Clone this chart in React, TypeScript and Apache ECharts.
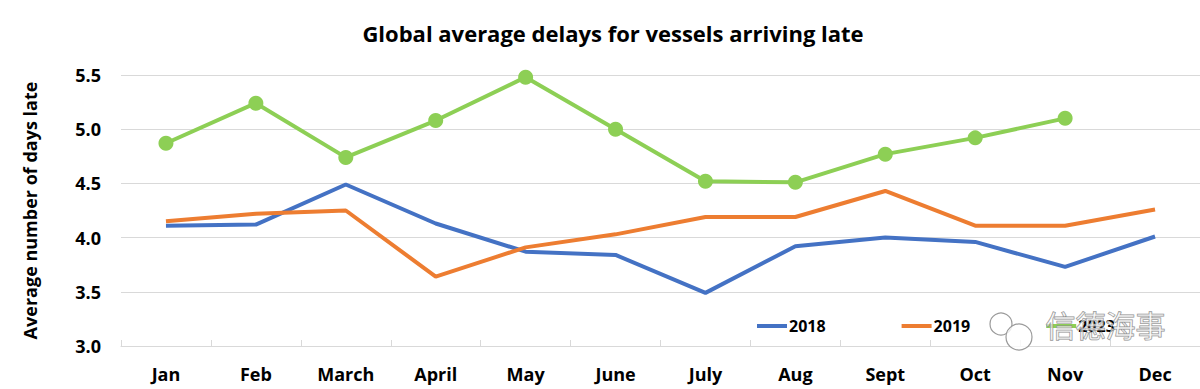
import React, { useEffect, useRef } from "react";
import * as echarts from "echarts";

const months = ["Jan", "Feb", "March", "April", "May", "June", "July", "Aug", "Sept", "Oct", "Nov", "Dec"];
const s2018 = [4.11, 4.12, 4.49, 4.13, 3.87, 3.84, 3.49, 3.92, 4.0, 3.96, 3.73, 4.01];
const s2019 = [4.15, 4.22, 4.25, 3.64, 3.91, 4.03, 4.19, 4.19, 4.43, 4.11, 4.11, 4.26];
const s2023 = [4.87, 5.24, 4.74, 5.08, 5.48, 5.0, 4.52, 4.51, 4.77, 4.92, 5.1, null];

const FONT = "'Open Sans', 'Noto Sans', sans-serif";

export default function App() {
  const ref = useRef<HTMLDivElement>(null);
  useEffect(() => {
    document.body.style.margin = "0";
    if (!ref.current) return;
    const chart = echarts.init(ref.current, null, { renderer: "svg" });
    chart.setOption({
      animation: false,
      backgroundColor: "#ffffff",
      title: {
        text: "Global average delays for vessels arriving late",
        left: 608,
        textAlign: "center",
        top: 17,
        textStyle: { fontFamily: FONT, fontSize: 22, fontWeight: "bold", color: "#000" },
      },
      legend: {
        left: 752,
        top: 313,
        itemWidth: 30,
        itemHeight: 4,
        itemGap: 76,
        textStyle: { fontFamily: FONT, fontSize: 16, fontWeight: "bold", color: "#000", padding: [0, 0, 0, -3] },
        data: [
          { name: "2018", icon: "rect" },
          { name: "2019", icon: "rect" },
          { name: "2023", icon: "rect" },
        ],
      },
      grid: { left: 121, right: 0, top: 75, bottom: 43 },
      xAxis: {
        type: "category",
        data: months,
        boundaryGap: true,
        axisLine: { lineStyle: { color: "#d9d9d9", width: 1 } },
        axisTick: { show: true, inside: true, length: 6, lineStyle: { color: "#d9d9d9" } },
        axisLabel: { fontFamily: FONT, fontSize: 18, fontWeight: "bold", color: "#000", margin: 19 },
      },
      yAxis: {
        type: "value",
        min: 3,
        max: 5.5,
        interval: 0.5,
        name: "Average number of days late",
        nameLocation: "middle",
        nameGap: 82,
        nameTextStyle: { fontFamily: FONT, fontSize: 18, fontWeight: "bold", color: "#000" },
        axisLine: { show: false },
        axisTick: { show: false },
        splitLine: { lineStyle: { color: "#d9d9d9", width: 1 } },
        axisLabel: {
          fontFamily: FONT,
          fontSize: 18,
          fontWeight: "bold",
          color: "#000",
          margin: 20,
          formatter: (v: number) => v.toFixed(1),
        },
      },
      series: [
        {
          name: "2018",
          type: "line",
          data: s2018,
          symbol: "none",
          lineStyle: { color: "#4472C4", width: 4 },
          itemStyle: { color: "#4472C4" },
        },
        {
          name: "2019",
          type: "line",
          data: s2019,
          symbol: "none",
          lineStyle: { color: "#ED7D31", width: 4 },
          itemStyle: { color: "#ED7D31" },
        },
        {
          name: "2023",
          type: "line",
          data: s2023,
          symbol: "circle",
          symbolSize: 15,
          lineStyle: { color: "#8DCF55", width: 4 },
          itemStyle: { color: "#8DCF55" },
        },
      ],
      graphic: [
        {
          type: "text",
          left: 1045,
          top: 308,
          style: {
            text: "信德海事",
            font: "30px 'Noto Sans CJK SC'",
            fill: "rgba(255,255,255,0.55)",
            stroke: "#8a8a8a",
            lineWidth: 1,
          },
          z: 100,
        },
        {
          type: "circle",
          shape: { cx: 1001, cy: 324, r: 11 },
          style: { fill: "rgba(255,255,255,0.7)", stroke: "#9a9a9a", lineWidth: 1.2 },
          z: 100,
        },
        {
          type: "circle",
          shape: { cx: 1019, cy: 337, r: 13 },
          style: { fill: "rgba(255,255,255,0.8)", stroke: "#9a9a9a", lineWidth: 1.2 },
          z: 101,
        },
      ],
    });
    return () => chart.dispose();
  }, []);
  return <div ref={ref} style={{ width: 1200, height: 389 }} />;
}
